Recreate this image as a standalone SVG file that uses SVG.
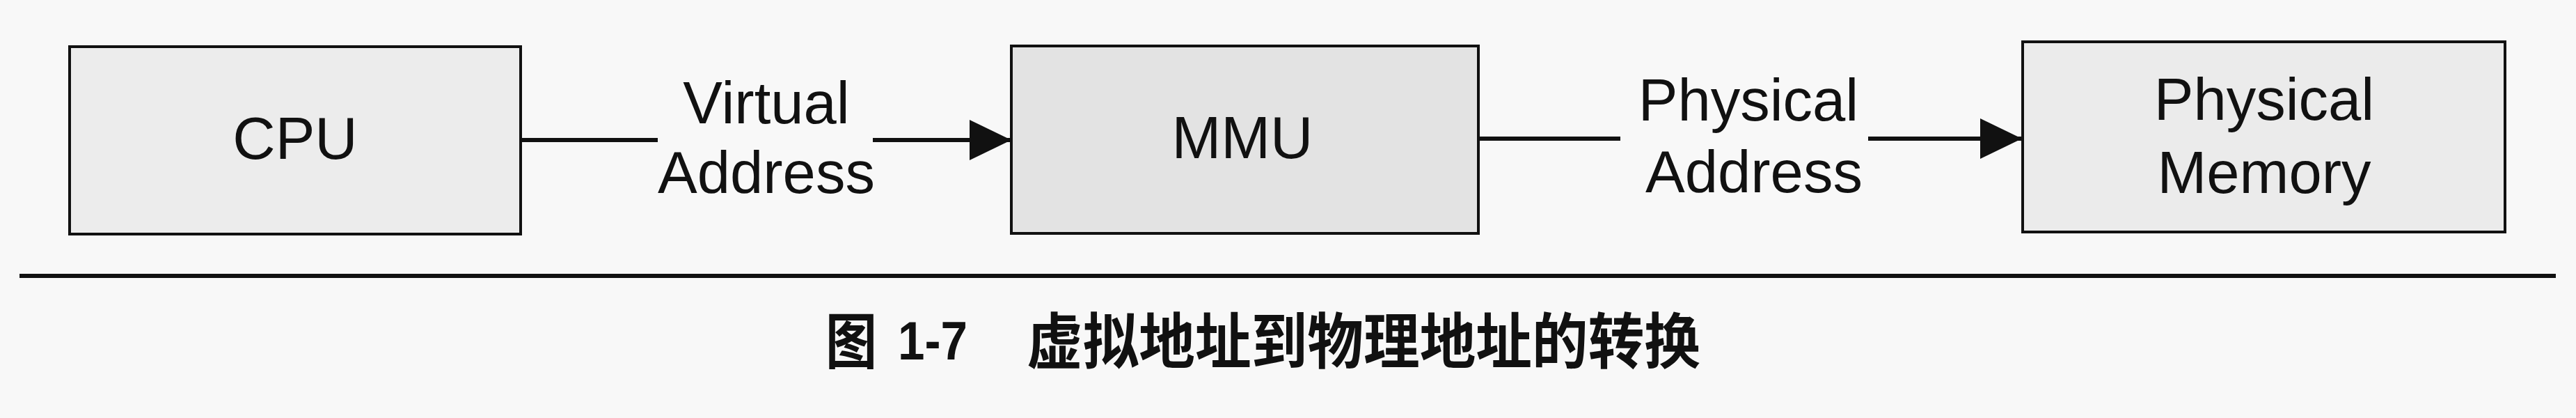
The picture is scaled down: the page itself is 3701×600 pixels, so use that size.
<svg xmlns="http://www.w3.org/2000/svg" width="3701" height="600" viewBox="0 0 3701 600">
<style>
.box{stroke:#111;stroke-width:4}
.lbl{font-family:"Liberation Sans",Arial,sans-serif;font-size:85px;fill:#111;text-anchor:middle}
.conn{fill:none;stroke:#111;stroke-width:6}
.cap{font-family:"Noto Sans CJK SC","Liberation Sans",sans-serif;font-size:87px;font-weight:bold;fill:#111}
</style>
<defs>
<marker id="arrow" markerUnits="userSpaceOnUse" markerWidth="62" markerHeight="60" refX="60" refY="29" orient="auto">
<polygon points="0,0 60,29 0,58" fill="#111"/>
</marker>
</defs>
<rect width="3701" height="600" fill="#f8f8f8"/>
<g id="cpu">
<rect class="box" x="100" y="67" width="648" height="269" fill="#ececec"/>
<text class="lbl" x="424" y="228">CPU</text>
</g>
<g id="mmu">
<rect class="box" x="1453" y="66" width="671" height="269" fill="#e3e3e3"/>
<text class="lbl" x="1785" y="227">MMU</text>
</g>
<g id="physical-memory">
<rect class="box" x="2906" y="60" width="693" height="273" fill="#ebebeb"/>
<text class="lbl" x="3253" y="172">Physical</text>
<text class="lbl" x="3253" y="277">Memory</text>
</g>
<g id="connectors">
<path class="conn" d="M748,201 H945 M1254,201 H1453" marker-end="url(#arrow)"/>
<path class="conn" d="M2124,199 H2328 M2684,199 H2905" marker-end="url(#arrow)"/>
</g>
<g id="labels">
<text class="lbl" x="1101" y="177">Virtual</text>
<text class="lbl" x="1101" y="277">Address</text>
<text class="lbl" x="2512" y="173">Physical</text>
<text class="lbl" x="2520" y="276">Address</text>
</g>
<g id="caption">
<line x1="28" y1="396" x2="3672" y2="396" stroke="#111" stroke-width="6"/>
<text class="cap" x="1186" y="522" textLength="74" lengthAdjust="spacingAndGlyphs">图</text>
<text x="1290" y="516" textLength="100" lengthAdjust="spacingAndGlyphs" style="font-family:'Liberation Sans',Arial,sans-serif;font-size:77px;font-weight:bold;fill:#111">1-7</text>
<text class="cap" x="1475" y="522" textLength="968" lengthAdjust="spacingAndGlyphs">虚拟地址到物理地址的转换</text>
</g>
</svg>
